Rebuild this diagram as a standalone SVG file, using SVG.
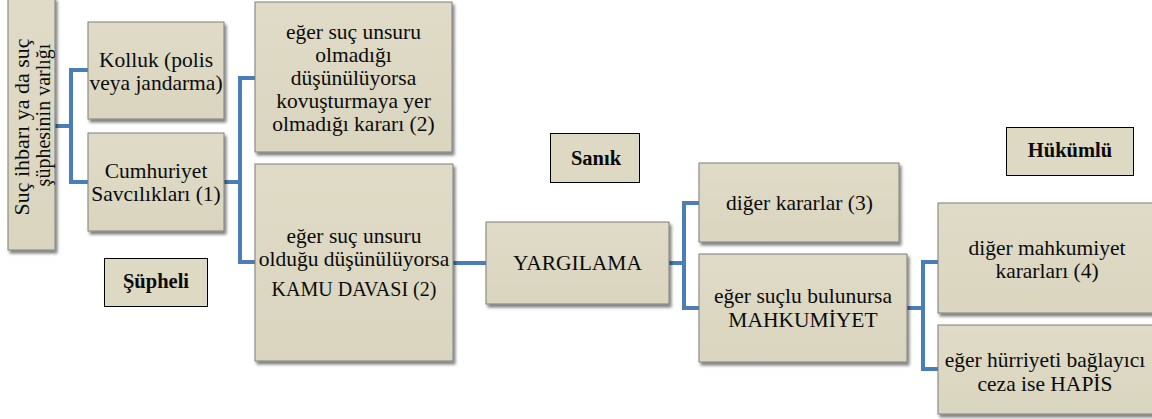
<svg xmlns="http://www.w3.org/2000/svg" width="1152" height="419" viewBox="0 0 1152 419">
<defs>
<filter id="sh" x="-10%" y="-10%" width="130%" height="130%">
<feDropShadow dx="2" dy="3" stdDeviation="1.8" flood-color="#000" flood-opacity="0.5"/>
</filter>
<linearGradient id="g" x1="0" y1="0" x2="0" y2="1">
<stop offset="0" stop-color="#dfdbc6"/>
<stop offset="1" stop-color="#d9d5bf"/>
</linearGradient>
</defs>
<style>
.box{fill:url(#g);stroke:#7f7f7b;stroke-width:1;filter:url(#sh)}
.lab{fill:#ddd9c3;stroke:#000;stroke-width:1}
text{font-family:'Liberation Serif','DejaVu Serif',serif;fill:#0a0a0a;text-anchor:middle}
.t{font-size:21.5px}
.b{font-size:20.5px;font-weight:bold}
.c{fill:none;stroke:#4a7ebb;stroke-width:4;stroke-linejoin:miter}
</style>
<rect width="1152" height="419" fill="#fff"/>
<g id="connectors">
<path class="c" d="M55 126H71M88 70H71V182H88"/>
<path class="c" d="M224 182H240M255 78H240V262H255"/>
<path class="c" d="M453 263H486"/>
<path class="c" d="M669 263H684M699 203H684V308H699"/>
<path class="c" d="M907 308H923M938 262H923V369H938"/>
</g>
<g id="n-ihbar">
<rect class="box" x="8" y="-2" width="47" height="252"/>
<text class="t" transform="translate(29,127) rotate(-90)" style="font-size:22px">Suç ihbarı ya da suç</text>
<text class="t" transform="translate(50,115) rotate(-90)" style="font-size:20px">şüphesinin varlığı</text>
</g>
<g id="n-kolluk">
<rect class="box" x="88" y="22" width="136" height="97"/>
<text class="t" x="156" y="67">Kolluk (polis</text>
<text class="t" x="156" y="90">veya jandarma)</text>
</g>
<g id="n-savci">
<rect class="box" x="88" y="133" width="136" height="98"/>
<text class="t" x="156" y="178">Cumhuriyet</text>
<text class="t" x="156" y="201">Savcılıkları (1)</text>
</g>
<g id="n-kyok">
<rect class="box" x="255" y="2" width="197" height="150"/>
<text class="t" x="353.5" y="39">eğer suç unsuru</text>
<text class="t" x="353.5" y="62">olmadığı</text>
<text class="t" x="353.5" y="85">düşünülüyorsa</text>
<text class="t" x="353.5" y="108">kovuşturmaya yer</text>
<text class="t" x="353.5" y="131">olmadığı kararı (2)</text>
</g>
<g id="n-kamu">
<rect class="box" x="255" y="164" width="198" height="197"/>
<text class="t" x="354" y="243">eğer suç unsuru</text>
<text class="t" x="354" y="266">olduğu düşünülüyorsa</text>
<text class="t" x="354" y="296" style="font-size:20px">KAMU DAVASI (2)</text>
</g>
<g id="n-yargilama">
<rect class="box" x="486" y="222" width="183" height="82"/>
<text class="t" x="577.5" y="270">YARGILAMA</text>
</g>
<g id="n-diger">
<rect class="box" x="699" y="163" width="200" height="79"/>
<text class="t" x="799.5" y="210">diğer kararlar (3)</text>
</g>
<g id="n-mahkumiyet">
<rect class="box" x="699" y="254" width="208" height="108"/>
<text class="t" x="803" y="303">eğer suçlu bulunursa</text>
<text class="t" x="803" y="327">MAHKUMİYET</text>
</g>
<g id="n-digermah">
<rect class="box" x="938" y="203" width="216" height="110"/>
<text class="t" x="1047" y="255">diğer mahkumiyet</text>
<text class="t" x="1047" y="278">kararları (4)</text>
</g>
<g id="n-hapis">
<rect class="box" x="938" y="325" width="216" height="89"/>
<text class="t" x="1045" y="367">eğer hürriyeti bağlayıcı</text>
<text class="t" x="1045" y="391">ceza ise HAPİS</text>
</g>
<g id="l-supheli">
<rect class="lab" x="104.5" y="258.5" width="103" height="48"/>
<text class="b" x="156" y="288">Şüpheli</text>
</g>
<g id="l-sanik">
<rect class="lab" x="550.5" y="133.5" width="89" height="49"/>
<text class="b" x="596" y="165">Sanık</text>
</g>
<g id="l-hukumlu">
<rect class="lab" x="1006.5" y="127.5" width="127" height="48"/>
<text class="b" x="1070" y="157">Hükümlü</text>
</g>
</svg>
